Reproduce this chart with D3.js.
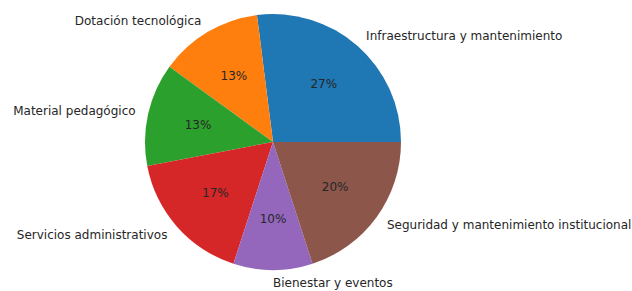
<!DOCTYPE html>
<html lang="es">
<head>
<meta charset="utf-8">
<title>Distribución</title>
<script src="https://d3js.org/d3.v7.min.js"></script>
<style>
  body { margin: 0; background: #fff; }
  text { font-family: "DejaVu Sans", sans-serif; fill: #262626; }
</style>
</head>
<body>
<script>
// datos
var categorias = ["Infraestructura y mantenimiento", "Dotación tecnológica", "Material pedagógico",
                  "Servicios administrativos", "Bienestar y eventos", "Seguridad y mantenimiento institucional"];
var valores = [27, 13, 13, 17, 10, 20];
var colores = ["#1f77b4", "#ff7f0e", "#2ca02c", "#d62728", "#9467bd", "#8c564b"];

var w = 632, h = 291;
var cx = 273, cy = 142, r = 128;

var svg = d3.select("body").append("svg")
  .attr("width", w).attr("height", h);

var g = svg.append("g").attr("transform", "translate(" + cx + "," + cy + ")");

var datos = categorias.map(function(c, i) { return { cat: c, val: valores[i], col: colores[i] }; });
var total = d3.sum(valores);

// matplotlib: empieza a las 3 en punto y gira en sentido antihorario
var pie = d3.pie().sort(null).value(function(d) { return d.val; })
  .startAngle(Math.PI / 2).endAngle(Math.PI / 2 - 2 * Math.PI);

var arc = d3.arc().innerRadius(0).outerRadius(r);
var arcos = pie(datos);

g.selectAll("path").data(arcos).enter().append("path")
  .attr("d", arc)
  .attr("fill", function(d) { return d.data.col; });

function punto(d, k) {
  var a = (d.startAngle + d.endAngle) / 2;
  return [Math.sin(a) * r * k, -Math.cos(a) * r * k];
}

g.selectAll("text.pct").data(arcos).enter().append("text")
  .attr("class", "pct")
  .attr("x", function(d) { return punto(d, 0.6)[0]; })
  .attr("y", function(d) { return punto(d, 0.6)[1]; })
  .attr("text-anchor", "middle")
  .attr("dominant-baseline", "central")
  .style("font-size", "12px")
  .text(function(d) { return Math.round(d.data.val / total * 100) + "%"; });

g.selectAll("text.lab").data(arcos).enter().append("text")
  .attr("class", "lab")
  .attr("x", function(d) { return punto(d, 1.1)[0]; })
  .attr("y", function(d) { return punto(d, 1.1)[1]; })
  .attr("text-anchor", function(d) { return punto(d, 1)[0] > 0 ? "start" : "end"; })
  .attr("dominant-baseline", "central")
  .style("font-size", "12px")
  .text(function(d) { return d.data.cat; });
</script>
</body>
</html>
